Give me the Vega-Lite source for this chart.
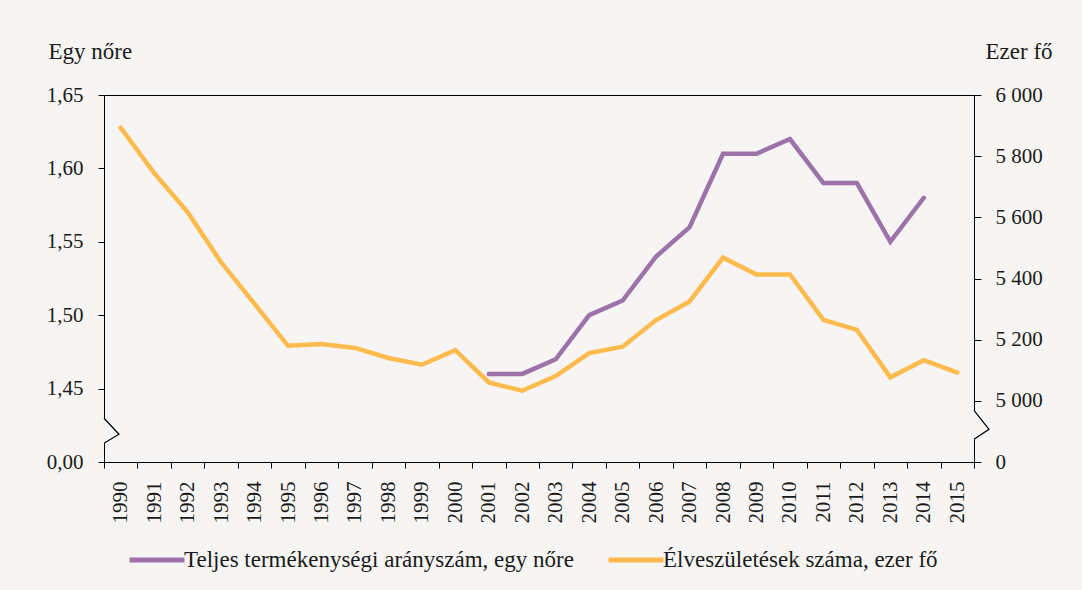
{
  "$schema": "https://vega.github.io/schema/vega-lite/v6.json",
  "width": 870,
  "height": 367,
  "autosize": {"type": "none"},
  "padding": {"left": 104, "top": 95, "right": 108, "bottom": 128},
  "background": "#f6f5f3",
  "config": {
    "font": "Liberation Serif",
    "view": {"stroke": "#000", "strokeWidth": 1},
    "axis": {
      "labelFont": "Liberation Serif",
      "labelFontSize": 21,
      "labelColor": "#1a1a1a",
      "titleFont": "Liberation Serif",
      "titleFontSize": 23,
      "titleFontWeight": "normal",
      "titleColor": "#1a1a1a",
      "tickColor": "#000",
      "domain": false,
      "grid": false
    },
    "legend": {
      "labelFont": "Liberation Serif",
      "labelFontSize": 23,
      "labelColor": "#1a1a1a"
    }
  },
  "datasets": {
    "main": [
      {"year": "1990", "series": "Élveszületések száma, ezer fő", "value": 5893},
      {"year": "1991", "series": "Élveszületések száma, ezer fő", "value": 5745},
      {"year": "1992", "series": "Élveszületések száma, ezer fő", "value": 5617},
      {"year": "1993", "series": "Élveszületések száma, ezer fő", "value": 5453},
      {"year": "1994", "series": "Élveszületések száma, ezer fő", "value": 5317},
      {"year": "1995", "series": "Élveszületések száma, ezer fő", "value": 5180},
      {"year": "1996", "series": "Élveszületések száma, ezer fő", "value": 5186},
      {"year": "1997", "series": "Élveszületések száma, ezer fő", "value": 5173},
      {"year": "1998", "series": "Élveszületések száma, ezer fő", "value": 5140},
      {"year": "1999", "series": "Élveszületések száma, ezer fő", "value": 5118},
      {"year": "2000", "series": "Élveszületések száma, ezer fő", "value": 5166},
      {"year": "2001", "series": "Élveszületések száma, ezer fő", "value": 5060},
      {"year": "2002", "series": "Élveszületések száma, ezer fő", "value": 5033},
      {"year": "2003", "series": "Élveszületések száma, ezer fő", "value": 5081},
      {"year": "2004", "series": "Élveszületések száma, ezer fő", "value": 5156},
      {"year": "2005", "series": "Élveszületések száma, ezer fő", "value": 5177},
      {"year": "2006", "series": "Élveszületések száma, ezer fő", "value": 5264},
      {"year": "2007", "series": "Élveszületések száma, ezer fő", "value": 5325},
      {"year": "2008", "series": "Élveszületések száma, ezer fő", "value": 5468},
      {"year": "2009", "series": "Élveszületések száma, ezer fő", "value": 5413},
      {"year": "2010", "series": "Élveszületések száma, ezer fő", "value": 5413},
      {"year": "2011", "series": "Élveszületések száma, ezer fő", "value": 5265},
      {"year": "2012", "series": "Élveszületések száma, ezer fő", "value": 5232},
      {"year": "2013", "series": "Élveszületések száma, ezer fő", "value": 5077},
      {"year": "2014", "series": "Élveszületések száma, ezer fő", "value": 5133},
      {"year": "2015", "series": "Élveszületések száma, ezer fő", "value": 5092},
      {"year": "2001", "series": "Teljes termékenységi arányszám, egy nőre", "value": 1.46},
      {"year": "2002", "series": "Teljes termékenységi arányszám, egy nőre", "value": 1.46},
      {"year": "2003", "series": "Teljes termékenységi arányszám, egy nőre", "value": 1.47},
      {"year": "2004", "series": "Teljes termékenységi arányszám, egy nőre", "value": 1.50},
      {"year": "2005", "series": "Teljes termékenységi arányszám, egy nőre", "value": 1.51},
      {"year": "2006", "series": "Teljes termékenységi arányszám, egy nőre", "value": 1.54},
      {"year": "2007", "series": "Teljes termékenységi arányszám, egy nőre", "value": 1.56},
      {"year": "2008", "series": "Teljes termékenységi arányszám, egy nőre", "value": 1.61},
      {"year": "2009", "series": "Teljes termékenységi arányszám, egy nőre", "value": 1.61},
      {"year": "2010", "series": "Teljes termékenységi arányszám, egy nőre", "value": 1.62},
      {"year": "2011", "series": "Teljes termékenységi arányszám, egy nőre", "value": 1.59},
      {"year": "2012", "series": "Teljes termékenységi arányszám, egy nőre", "value": 1.59},
      {"year": "2013", "series": "Teljes termékenységi arányszám, egy nőre", "value": 1.55},
      {"year": "2014", "series": "Teljes termékenységi arányszám, egy nőre", "value": 1.58}
    ],
    "breaks": [
      {"side": "left", "year": "1990", "value": 1.4213},
      {"side": "right", "year": "2015", "value": 4921.7}
    ]
  },
  "layer": [
    {
      "layer": [
        {
          "data": {"name": "main"},
          "transform": [{"filter": "datum.series === 'Teljes termékenységi arányszám, egy nőre'"}],
          "mark": {"type": "line", "strokeWidth": 4.5, "strokeCap": "round"},
          "encoding": {
            "x": {
              "field": "year", "type": "ordinal",
              "scale": {"type": "band", "paddingInner": 0, "paddingOuter": 0},
              "axis": {"title": null, "labelAngle": -90, "tickBand": "extent", "tickSize": 6, "labelPadding": 13}
            },
            "y": {
              "field": "value", "type": "quantitative",
              "scale": {"domain": [1.4, 1.65], "nice": false, "zero": false},
              "axis": {
                "orient": "left",
                "values": [1.4, 1.45, 1.5, 1.55, 1.6, 1.65],
                "labelExpr": "datum.value < 1.41 ? '0,00' : replace(format(datum.value, '.2f'), '.', ',')",
                "tickSize": 6, "labelPadding": 15,
                "title": "Egy nőre", "titleAngle": 0, "titleAlign": "left", "titleBaseline": "alphabetic",
                "titleX": -56, "titleY": -37
              }
            },
            "color": {
              "field": "series", "type": "nominal",
              "scale": {
                "domain": ["Teljes termékenységi arányszám, egy nőre", "Élveszületések száma, ezer fő"],
                "range": ["#9c72a9", "#fdba4d"]
              },
              "legend": {
                "title": null, "orient": "none", "direction": "horizontal",
                "legendX": 23, "legendY": 435,
                "symbolType": "stroke", "symbolSize": 3025, "symbolStrokeWidth": 5,
                "columnPadding": 24, "labelOffset": -3, "labelLimit": 700
              }
            }
          }
        },
        {
          "data": {"name": "breaks"},
          "transform": [{"filter": "datum.side === 'left'"}],
          "mark": {"type": "point", "shape": "M-2,-12.5h4v25h-4z", "filled": true, "fill": "#f6f5f3", "strokeWidth": 0, "size": 4, "opacity": 1},
          "encoding": {
            "x": {"field": "year", "type": "ordinal", "bandPosition": 0},
            "y": {"field": "value", "type": "quantitative"}
          }
        },
        {
          "data": {"name": "breaks"},
          "transform": [{"filter": "datum.side === 'left'"}],
          "mark": {"type": "point", "shape": "M0,-12.5L15,3.5L0,12.5", "filled": false, "stroke": "#000", "strokeWidth": 1.2, "size": 4, "opacity": 1},
          "encoding": {
            "x": {"field": "year", "type": "ordinal", "bandPosition": 0},
            "y": {"field": "value", "type": "quantitative"}
          }
        }
      ]
    },
    {
      "layer": [
        {
          "data": {"name": "main"},
          "transform": [{"filter": "datum.series === 'Élveszületések száma, ezer fő'"}],
          "mark": {"type": "line", "strokeWidth": 4.5, "strokeCap": "round"},
          "encoding": {
            "x": {"field": "year", "type": "ordinal"},
            "y": {
              "field": "value", "type": "quantitative",
              "scale": {"domain": [4800, 6000], "nice": false, "zero": false},
              "axis": {
                "orient": "right",
                "values": [4800, 5000, 5200, 5400, 5600, 5800, 6000],
                "labelExpr": "datum.value < 4900 ? '0' : replace(format(datum.value, ','), ',', ' ')",
                "tickSize": 7, "labelPadding": 14,
                "title": "Ezer fő", "titleAngle": 0, "titleAlign": "left", "titleBaseline": "alphabetic",
                "titleX": 11, "titleY": -37
              }
            },
            "color": {"field": "series", "type": "nominal"}
          }
        },
        {
          "data": {"name": "breaks"},
          "transform": [{"filter": "datum.side === 'right'"}],
          "mark": {"type": "point", "shape": "M-2,-14.5h4v29h-4z", "filled": true, "fill": "#f6f5f3", "strokeWidth": 0, "size": 4, "opacity": 1},
          "encoding": {
            "x": {"field": "year", "type": "ordinal", "bandPosition": 1},
            "y": {"field": "value", "type": "quantitative"}
          }
        },
        {
          "data": {"name": "breaks"},
          "transform": [{"filter": "datum.side === 'right'"}],
          "mark": {"type": "point", "shape": "M0,-14.5L15,4.5L0,14.5", "filled": false, "stroke": "#000", "strokeWidth": 1.2, "size": 4, "opacity": 1},
          "encoding": {
            "x": {"field": "year", "type": "ordinal", "bandPosition": 1},
            "y": {"field": "value", "type": "quantitative"}
          }
        }
      ]
    }
  ],
  "resolve": {"scale": {"y": "independent"}}
}
